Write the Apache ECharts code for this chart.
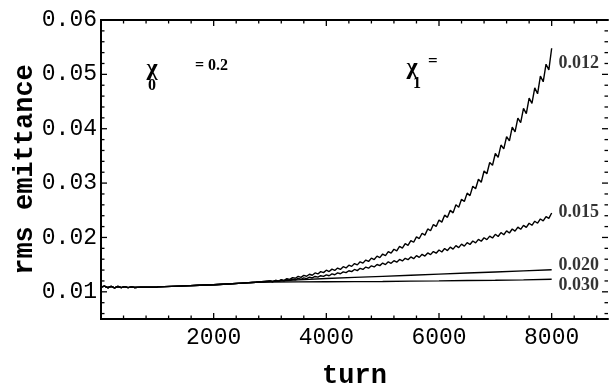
<!DOCTYPE html>
<html><head><meta charset="utf-8">
<script src="https://cdn.jsdelivr.net/npm/echarts@6/dist/echarts.min.js"></script>
<style>html,body{margin:0;padding:0;background:#fff}#c{width:610px;height:386px}</style>
</head><body><div id="c"></div>
<script>
// ---- data ----
const turnsEarly = [0,60,120,180,240,300,360,420,480,540,600,700,800,1000,1250,1500,1750,2000,2250,2500,2750];
const emitEarly = [0.01085,0.01105,0.01075,0.01102,0.01074,0.01098,0.01076,0.01095,0.01078,0.01090,0.01080,0.01086,0.01083,0.01090,0.01100,0.01110,0.01120,0.01130,0.01145,0.01160,0.01175];

const turnsFine = [3000,3050,3100,3150,3200,3250,3300,3350,3400,3450,
  3500,3550,3600,3650,3700,3750,3800,3850,3900,3950,
  4000,4050,4100,4150,4200,4250,4300,4350,4400,4450,
  4500,4550,4600,4650,4700,4750,4800,4850,4900,4950,
  5000,5050,5100,5150,5200,5250,5300,5350,5400,5450,
  5500,5550,5600,5650,5700,5750,5800,5850,5900,5950,
  6000,6050,6100,6150,6200,6250,6300,6350,6400,6450,
  6500,6550,6600,6650,6700,6750,6800,6850,6900,6950,
  7000,7050,7100,7150,7200,7250,7300,7350,7400,7450,
  7500,7550,7600,7650,7700,7750,7800,7850,7900,7950,
  8000];
const emit012 = [0.01200,0.01186,0.01212,0.01198,0.01224,0.01209,0.01241,0.01229,0.01261,0.01249,
  0.01283,0.01267,0.01303,0.01287,0.01323,0.01305,0.01347,0.01329,0.01371,0.01353,
  0.01397,0.01373,0.01417,0.01393,0.01437,0.01412,0.01462,0.01440,0.01490,0.01468,
  0.01520,0.01496,0.01552,0.01528,0.01584,0.01558,0.01620,0.01594,0.01656,0.01630,
  0.01695,0.01667,0.01739,0.01711,0.01783,0.01752,0.01834,0.01804,0.01886,0.01856,
  0.01942,0.01912,0.02010,0.01980,0.02078,0.02043,0.02157,0.02123,0.02237,0.02203,
  0.02322,0.02282,0.02410,0.02370,0.02498,0.02452,0.02600,0.02556,0.02704,0.02660,
  0.02815,0.02769,0.02943,0.02897,0.03071,0.03016,0.03222,0.03172,0.03378,0.03328,
  0.03544,0.03474,0.03700,0.03630,0.03856,0.03776,0.04028,0.03944,0.04196,0.04112,
  0.04375,0.04279,0.04563,0.04467,0.04751,0.04643,0.04967,0.04863,0.05187,0.05083,
  0.05480];
const emit015 = [0.01198,0.01186,0.01206,0.01194,0.01214,0.01202,0.01223,0.01212,0.01233,0.01222,
  0.01245,0.01231,0.01257,0.01243,0.01269,0.01255,0.01282,0.01269,0.01296,0.01283,
  0.01313,0.01296,0.01331,0.01314,0.01349,0.01332,0.01368,0.01352,0.01388,0.01372,
  0.01411,0.01390,0.01433,0.01412,0.01455,0.01434,0.01478,0.01458,0.01502,0.01482,
  0.01529,0.01502,0.01551,0.01524,0.01573,0.01546,0.01595,0.01568,0.01617,0.01590,
  0.01642,0.01610,0.01666,0.01634,0.01690,0.01658,0.01715,0.01684,0.01741,0.01710,
  0.01770,0.01733,0.01796,0.01759,0.01822,0.01785,0.01849,0.01813,0.01877,0.01841,
  0.01905,0.01870,0.01935,0.01900,0.01965,0.01930,0.01995,0.01960,0.02025,0.01990,
  0.02058,0.02018,0.02090,0.02050,0.02122,0.02082,0.02155,0.02116,0.02189,0.02150,
  0.02223,0.02186,0.02261,0.02224,0.02299,0.02262,0.02340,0.02306,0.02384,0.02350,
  0.02450];

const turnsCoarse = [3000,3500,4000,4500,5000,5500,6000,6500,7000,7500,8000];
const emit020 = [0.01190,0.01220,0.01245,0.01265,0.01285,0.01305,0.01325,0.01345,0.01365,0.01385,0.01405];
const emit030 = [0.01180,0.01183,0.01185,0.01188,0.01191,0.01196,0.01201,0.01207,0.01213,0.01220,0.01230];

const curveNames = ['0.012','0.015','0.020','0.030'];
const labelTurn = 8120;
const labelEmit = [0.0521, 0.0247, 0.0149, 0.01125];

// tick values
const xMin = 0, xMax = 9000, xLabelStep = 2000;
const xTickMajor = [2000,4000,6000,8000];
const xTickMinor = [400,800,1200,1600,2400,2800,3200,3600,4400,4800,5200,5600,6400,6800,7200,7600,8400,8800];
const yMin = 0.005, yMax = 0.06, yStep = 0.001;
const yTickMajor = [0.01,0.02,0.03,0.04,0.05];
const yTickMinor = [0.006,0.008,0.012,0.014,0.016,0.018,0.022,0.024,0.026,0.028,0.032,0.034,0.036,0.038,0.042,0.044,0.046,0.048,0.052,0.054,0.056,0.058];

// ---- chart ----
const mono = 'Liberation Mono';
const serif = 'Liberation Serif';
function pairs(xs, ys){ return xs.map((x,i)=>[x, ys[i]]); }
const early = pairs(turnsEarly, emitEarly);
const curves = [
  early.concat(pairs(turnsFine, emit012)),
  early.concat(pairs(turnsFine, emit015)),
  early.concat(pairs(turnsCoarse, emit020)),
  early.concat(pairs(turnsCoarse, emit030))
];

const noTicks = {
  axisLine:{show:true, lineStyle:{color:'#000', width:2}},
  axisTick:{show:false}, minorTick:{show:false},
  splitLine:{show:false}, minorSplitLine:{show:false}
};

function renderTicks(params, api){
  const lb = api.coord([xMin, yMin]), rt = api.coord([xMax, yMax]);
  const L = lb[0], B = lb[1], R = rt[0], T = rt[1];
  const st = {stroke:'#000', lineWidth:1.3};
  const ch = [];
  const addX = (v, len) => {
    const x = api.coord([v, yMin])[0];
    ch.push({type:'line', shape:{x1:x, y1:B, x2:x, y2:B-len}, style:st});
    ch.push({type:'line', shape:{x1:x, y1:T, x2:x, y2:T+len}, style:st});
  };
  const addY = (v, len) => {
    const y = api.coord([xMin, v])[1];
    ch.push({type:'line', shape:{x1:L, y1:y, x2:L+len, y2:y}, style:st});
    ch.push({type:'line', shape:{x1:R, y1:y, x2:R-len, y2:y}, style:st});
  };
  xTickMajor.forEach(v=>addX(v,6)); xTickMinor.forEach(v=>addX(v,3.5));
  yTickMajor.forEach(v=>addY(v,6)); yTickMinor.forEach(v=>addY(v,3.5));
  return {type:'group', children:ch};
}

function txt(x, y, text, size, align){
  return {type:'text', x:x, y:y, z:10, style:{text:text, fontFamily:serif, fontWeight:'bold',
    fontSize:size, fill:'#000', align:align || 'center', verticalAlign:'middle'}};
}

const chart = echarts.init(document.getElementById('c'), null, {renderer:'canvas'});
const option = {
  animation:false,
  backgroundColor:'#fff',
  grid:{left:101, top:20, right:2, bottom:67, outerBoundsMode:'none', containLabel:false},
  xAxis:[
    Object.assign({type:'value', min:xMin, max:xMax, interval:xLabelStep, position:'bottom',
      axisLabel:{fontFamily:mono, fontSize:23, color:'#000', margin:7,
        formatter: v => (v > xMin && v < xMax) ? String(v) : ''},
      name:'turn', nameLocation:'middle', nameGap:44, nameMoveOverlap:false,
      nameTextStyle:{fontFamily:mono, fontWeight:'bold', fontSize:27, color:'#000'}}, noTicks),
    Object.assign({type:'value', min:xMin, max:xMax, interval:xLabelStep, position:'top',
      axisLabel:{show:false}}, noTicks)
  ],
  yAxis:[
    Object.assign({type:'value', min:yMin, max:yMax, interval:yStep, position:'left',
      axisLabel:{fontFamily:mono, fontSize:23, color:'#000', margin:4, hideOverlap:false,
        formatter: v => { const k = Math.round(v*1000); return (k % 10 === 0) ? (k/1000).toFixed(2) : ''; }},
      name:'rms emittance', nameLocation:'middle', nameGap:62, nameRotate:90, nameMoveOverlap:false,
      nameTextStyle:{fontFamily:mono, fontWeight:'bold', fontSize:27, color:'#000'}}, noTicks),
    Object.assign({type:'value', min:yMin, max:yMax, interval:yStep, position:'right',
      axisLabel:{show:false}}, noTicks)
  ],
  series: curves.map((d,i)=>({
    type:'line', name:curveNames[i], data:d, showSymbol:false, symbol:'none',
    xAxisIndex:0, yAxisIndex:0, lineStyle:{color:'#000', width:1.4}, z:3, silent:true
  })).concat([{
    type:'scatter', xAxisIndex:0, yAxisIndex:0, symbolSize:0, silent:true,
    data: labelEmit.map((y,i)=>({value:[labelTurn, y], name:curveNames[i]})),
    label:{show:true, position:'right', distance:0, formatter:p=>p.name,
      fontFamily:serif, fontWeight:'bold', fontSize:18, color:'#000'}
  },{
    type:'custom', xAxisIndex:0, yAxisIndex:0, silent:true, clip:false, z:5,
    data:[[xMin, yMin]], renderItem: renderTicks
  }]),
  graphic:[
    txt(152, 69, 'χ', 24),
    txt(152, 86, '0', 16),
    txt(195, 66, '= 0.2', 16, 'left'),
    txt(412, 68, 'χ', 24),
    txt(417, 84, '1', 16),
    txt(428, 62, '=', 17, 'left')
  ]
};
chart.setOption(option);
</script>
</body></html>
